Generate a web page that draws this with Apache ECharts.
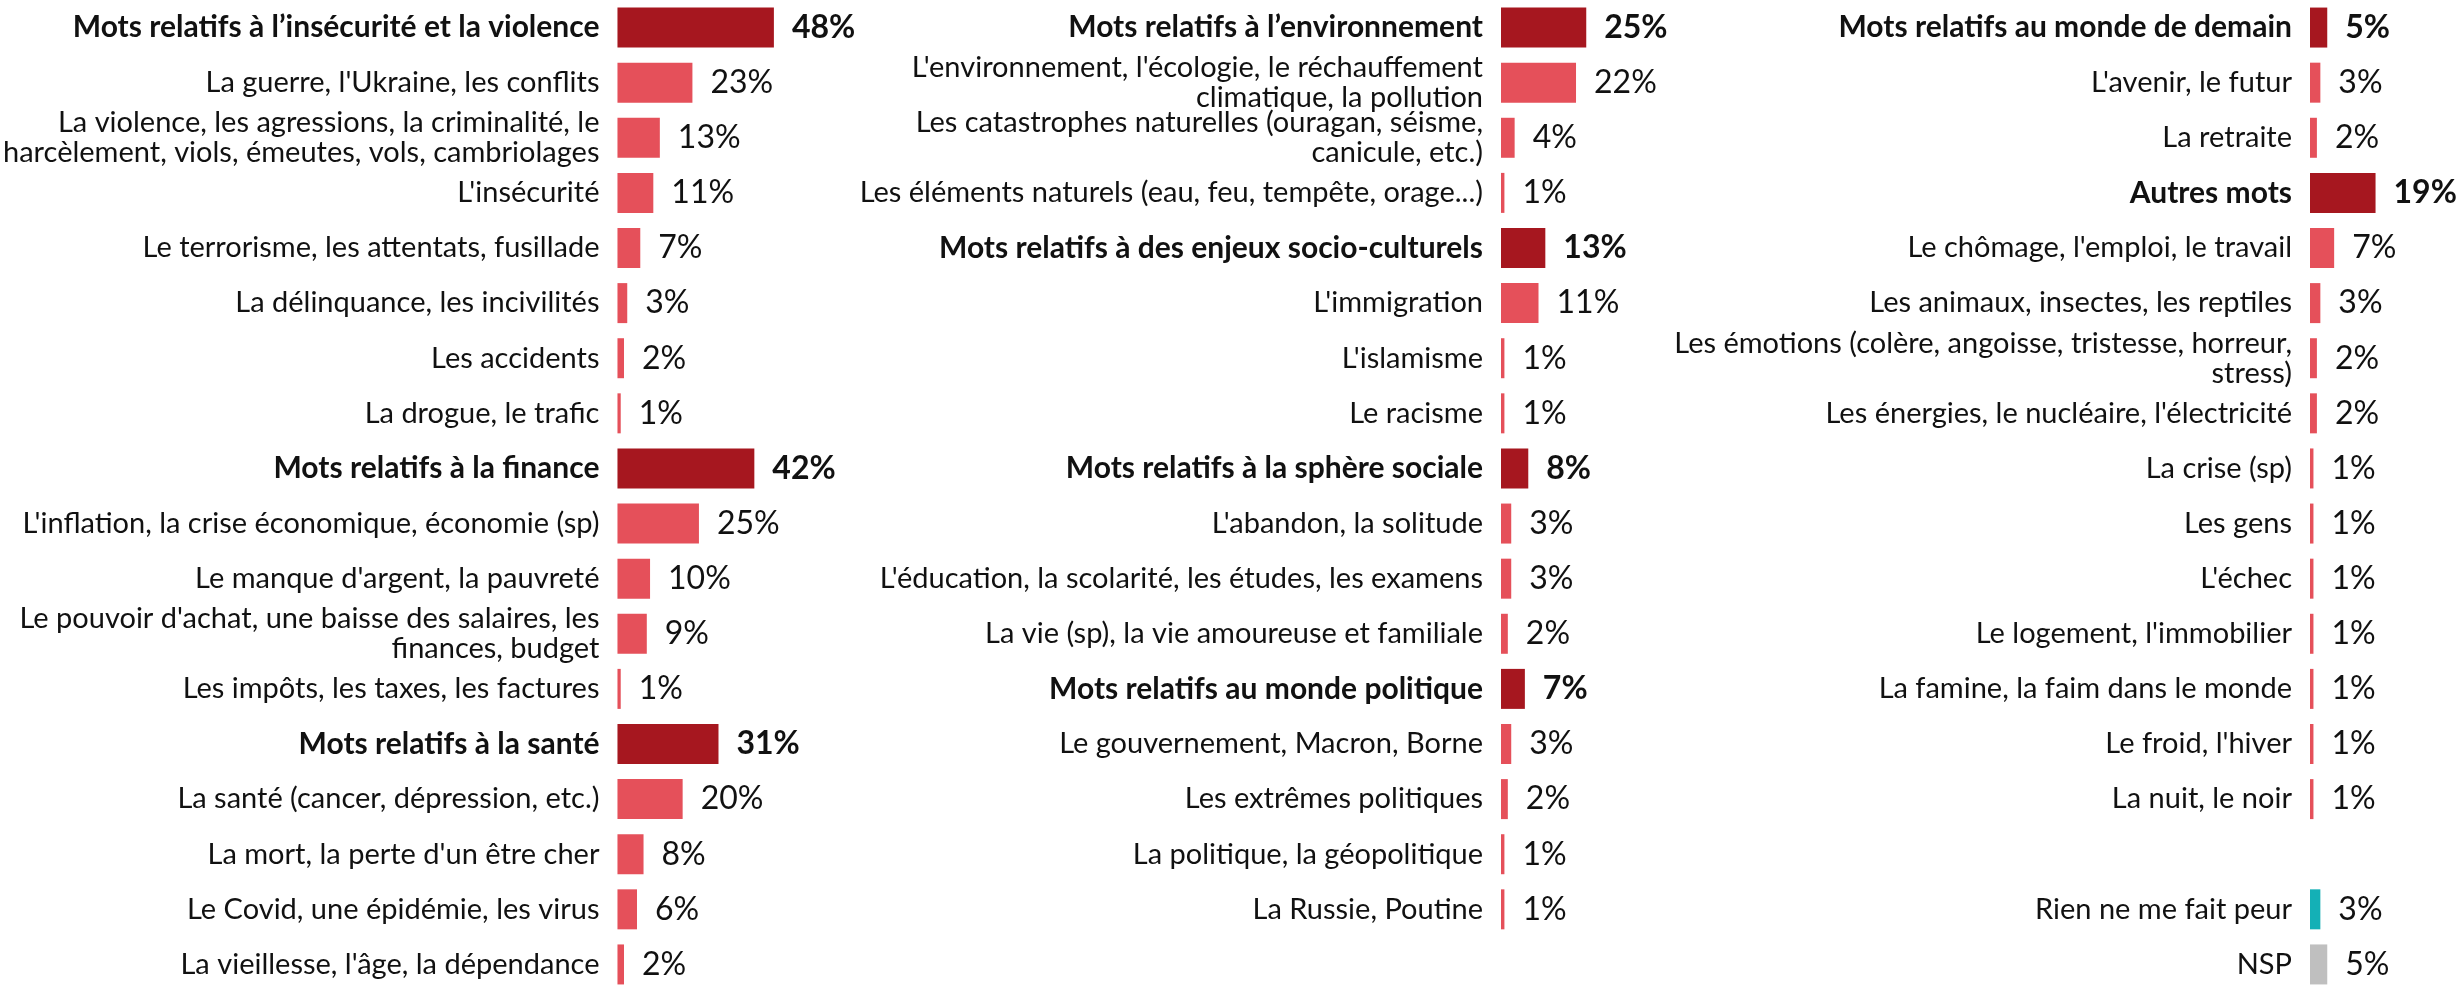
<!DOCTYPE html>
<html>
<head>
<meta charset="utf-8">
<script src="https://cdn.jsdelivr.net/npm/echarts@6/dist/echarts.min.js"></script>
<style>
  html, body { margin: 0; padding: 0; background: #fff; }
  #chart { width: 2463px; height: 992px; }
</style>
</head>
<body>
<div id="chart"></div>
<script>
// g = catégorie (gras), i = sous-item, r = rien, n = NSP, '' = ligne vide
const leftLabels = [
  'Mots relatifs à l\u2019insécurité et la violence',
  'La guerre, l\'Ukraine, les conflits',
  'La violence, les agressions, la criminalité, le\nharcèlement, viols, émeutes, vols, cambriolages',
  'L\'insécurité',
  'Le terrorisme, les attentats, fusillade',
  'La délinquance, les incivilités',
  'Les accidents',
  'La drogue, le trafic',
  'Mots relatifs à la finance',
  'L\'inflation, la crise économique, économie (sp)',
  'Le manque d\'argent, la pauvreté',
  'Le pouvoir d\'achat, une baisse des salaires, les\nfinances, budget',
  'Les impôts, les taxes, les factures',
  'Mots relatifs à la santé',
  'La santé (cancer, dépression, etc.)',
  'La mort, la perte d\'un être cher',
  'Le Covid, une épidémie, les virus',
  'La vieillesse, l\'âge, la dépendance'
];
const leftValues = [48, 23, 13, 11, 7, 3, 2, 1, 42, 25, 10, 9, 1, 31, 20, 8, 6, 2];
const leftTypes = ['g','i','i','i','i','i','i','i','g','i','i','i','i','g','i','i','i','i'];

const midLabels = [
  'Mots relatifs à l\u2019environnement',
  'L\'environnement, l\'écologie, le réchauffement\nclimatique, la pollution',
  'Les catastrophes naturelles (ouragan, séisme,\ncanicule, etc.)',
  'Les éléments naturels (eau, feu, tempête, orage...)',
  'Mots relatifs à des enjeux socio-culturels',
  'L\'immigration',
  'L\'islamisme',
  'Le racisme',
  'Mots relatifs à la sphère sociale',
  'L\'abandon, la solitude',
  'L\'éducation, la scolarité, les études, les examens',
  'La vie (sp), la vie amoureuse et familiale',
  'Mots relatifs au monde politique',
  'Le gouvernement, Macron, Borne',
  'Les extrêmes politiques',
  'La politique, la géopolitique',
  'La Russie, Poutine',
  ''
];
const midValues = [25, 22, 4, 1, 13, 11, 1, 1, 8, 3, 3, 2, 7, 3, 2, 1, 1, null];
const midTypes = ['g','i','i','i','g','i','i','i','g','i','i','i','g','i','i','i','i',''];

const rightLabels = [
  'Mots relatifs au monde de demain',
  'L\'avenir, le futur',
  'La retraite',
  'Autres mots',
  'Le chômage, l\'emploi, le travail',
  'Les animaux, insectes, les reptiles',
  'Les émotions (colère, angoisse, tristesse, horreur,\nstress)',
  'Les énergies, le nucléaire, l\'électricité',
  'La crise (sp)',
  'Les gens',
  'L\'échec',
  'Le logement, l\'immobilier',
  'La famine, la faim dans le monde',
  'Le froid, l\'hiver',
  'La nuit, le noir',
  '',
  'Rien ne me fait peur',
  'NSP'
];
const rightValues = [5, 3, 2, 19, 7, 3, 2, 2, 1, 1, 1, 1, 1, 1, 1, null, 3, 5];
const rightTypes = ['g','i','i','g','i','i','i','i','i','i','i','i','i','i','i','','r','n'];

const colors = { g: '#A6171F', i: '#E5505A', r: '#14B0B6', n: '#BFBFBF' };
const FONT = 'Lato';

// panneaux : début des barres et échelle px par %
const panels = [
  { labels: leftLabels, values: leftValues, types: leftTypes, left: 609, scale: 3.40, max: 60 },
  { labels: midLabels, values: midValues, types: midTypes, left: 1501, scale: 3.41, max: 40 },
  { labels: rightLabels, values: rightValues, types: rightTypes, left: 2310, scale: 3.45, max: 30 }
];

const grid = [], xAxis = [], yAxis = [], series = [];
panels.forEach(function (p, k) {
  grid.push({ left: p.left, top: -1, width: p.max * p.scale, height: 1006, containLabel: false });
  xAxis.push({ type: 'value', gridIndex: k, min: 0, max: p.max, show: false });
  yAxis.push({
    type: 'category', gridIndex: k, data: p.labels, inverse: true,
    axisLine: { show: false }, axisTick: { show: false }, splitLine: { show: false },
    axisLabel: {
      interval: 0, margin: 18, color: '#111', fontFamily: FONT, fontSize: 29, lineHeight: 30,
      formatter: function (v, i) { return p.types[i] === 'g' ? '{b|' + v + '}' : v; },
      rich: { b: { fontFamily: FONT, fontSize: 30, fontWeight: 'bold', color: '#111' } }
    }
  });
  series.push({
    type: 'bar', xAxisIndex: k, yAxisIndex: k, barWidth: 40, silent: true,
    data: p.values.map(function (v, i) {
      const t = p.types[i];
      return {
        value: v,
        itemStyle: { color: colors[t] || '#fff' },
        label: { fontWeight: t === 'g' ? 'bold' : 'normal' }
      };
    }),
    label: {
      show: true, position: 'right', distance: 18, color: '#111',
      fontFamily: FONT, fontSize: 32,
      formatter: function (d) { return d.value == null ? '' : d.value + '%'; }
    }
  });
});

const chart = echarts.init(document.getElementById('chart'), null, { renderer: 'canvas' });
chart.setOption({ animation: false, grid: grid, xAxis: xAxis, yAxis: yAxis, series: series });
</script>
</body>
</html>
